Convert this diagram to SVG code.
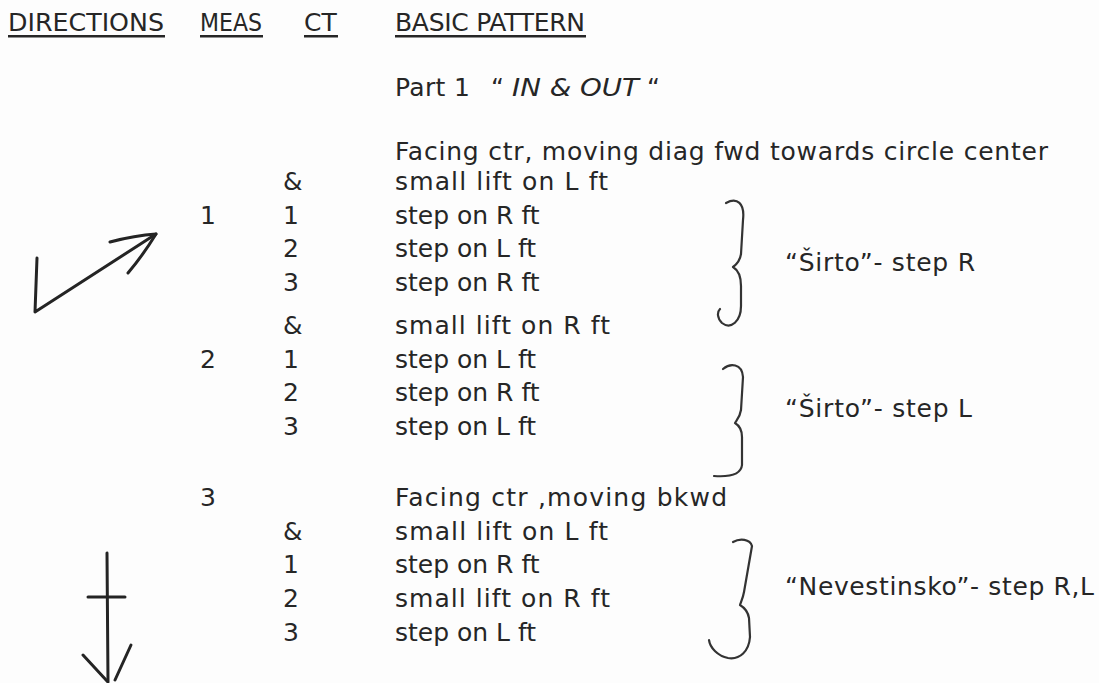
<svg xmlns="http://www.w3.org/2000/svg" width="1099" height="683" viewBox="0 0 1099 683">
<style>
text{font-family:"DejaVu Sans","Open Sans",sans-serif;font-size:25px;fill:#262626}
.ink{fill:none;stroke:#242424;stroke-width:3;stroke-linecap:round;stroke-linejoin:round}
.br{fill:none;stroke:#333;stroke-width:2.2;stroke-linecap:round;stroke-linejoin:round}
</style>
<rect width="1099" height="683" fill="#fdfdfd"/>
<g id="headers">
<text x="8" y="31" textLength="156" lengthAdjust="spacingAndGlyphs">DIRECTIONS</text>
<text x="200" y="31" textLength="62" lengthAdjust="spacingAndGlyphs">MEAS</text>
<text x="304" y="31">CT</text>
<text x="395" y="31" textLength="190" lengthAdjust="spacing">BASIC PATTERN</text>
<g fill="#262626">
<rect x="8" y="35" width="157" height="2.5"/>
<rect x="200" y="35" width="63" height="2.5"/>
<rect x="304" y="35" width="34" height="2.5"/>
<rect x="395" y="35" width="191" height="2.5"/>
</g>
</g>
<g id="part1">
<text x="395" y="96" textLength="75" lengthAdjust="spacing">Part 1</text>
<text x="491" y="96">“</text>
<text x="512" y="96" font-style="italic" font-size="26" textLength="127" lengthAdjust="spacingAndGlyphs">IN &amp; OUT</text>
<text x="647" y="96">“</text>
</g>
<g id="meas1">
<text x="395" y="160" textLength="653" lengthAdjust="spacing">Facing ctr, moving diag fwd towards circle center</text>
<text x="283" y="190">&amp;</text><text x="395" y="190" textLength="213" lengthAdjust="spacing">small lift on L ft</text>
<text x="200" y="224">1</text><text x="283" y="224">1</text><text x="395" y="224">step on R ft</text>
<text x="283" y="257">2</text><text x="395" y="257">step on L ft</text>
<text x="283" y="291">3</text><text x="395" y="291">step on R ft</text>
</g>
<g id="meas2">
<text x="283" y="334">&amp;</text><text x="395" y="334" textLength="215" lengthAdjust="spacing">small lift on R ft</text>
<text x="200" y="368">2</text><text x="283" y="368">1</text><text x="395" y="368">step on L ft</text>
<text x="283" y="401">2</text><text x="395" y="401">step on R ft</text>
<text x="283" y="435">3</text><text x="395" y="435">step on L ft</text>
</g>
<g id="meas3">
<text x="200" y="506">3</text><text x="395" y="506" textLength="332" lengthAdjust="spacing">Facing ctr ,moving bkwd</text>
<text x="283" y="540">&amp;</text><text x="395" y="540" textLength="213" lengthAdjust="spacing">small lift on L ft</text>
<text x="283" y="573">1</text><text x="395" y="573">step on R ft</text>
<text x="283" y="607">2</text><text x="395" y="607" textLength="215" lengthAdjust="spacing">small lift on R ft</text>
<text x="283" y="641">3</text><text x="395" y="641">step on L ft</text>
</g>
<g id="labels">
<text x="785" y="271" textLength="190" lengthAdjust="spacing">“Širto”- step R</text>
<text x="785" y="417" textLength="187" lengthAdjust="spacing">“Širto”- step L</text>
<text x="785" y="595" textLength="309" lengthAdjust="spacing">“Nevestinsko”- step R,L</text>
</g>
<g id="braces">
<path class="br" d="M726,203 C737,197 745,203 743,220 L741,254 C740,261 737,264 733,267 C738,270 741,277 741,286 L741,306 C741,321 731,330 722,323 C717,318 717,312 720,309"/>
<path class="br" d="M723,369 C730,363 742,363 743,377 L741,410 C740,417 737,420 735,423 C740,426 742,430 742,437 L742,465 C741,475 728,477 714,476"/>
<path class="br" d="M733,542 C740,538 750,539 752,546 L744,592 C743,598 741,602 740,605 C745,608 748,612 749,618 L750,637 C749,651 740,660 728,658 C718,656 710,648 709,640"/>
</g>
<g id="directions">
<path class="ink" d="M37,258 L35,312 L156,234"/>
<path class="ink" d="M110,242 C125,238 140,235 156,234 C148,247 139,260 128,273"/>
<path class="ink" d="M107,553 L108,682"/>
<path class="ink" d="M88,597 L125,597"/>
<path class="ink" d="M83,655 L107,681"/>
<path class="ink" d="M131,645 L115,680"/>
</g>
</svg>
